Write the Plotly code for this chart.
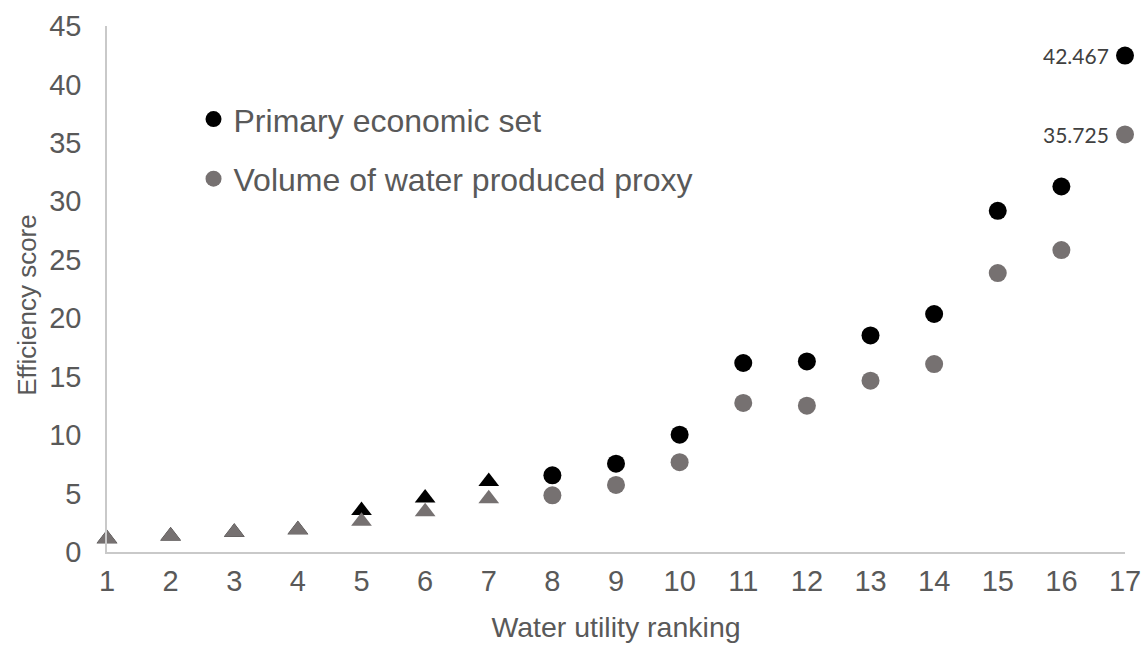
import plotly.graph_objects as go

# Data
ranking = list(range(1, 18))
primary_economic = [1.14, 1.36, 1.68, 1.91, 3.54, 4.62, 6.04, 6.56, 7.56, 10.04,
                    16.17, 16.3, 18.53, 20.36, 29.19, 31.27, 42.467]
volume_proxy = [1.14, 1.36, 1.68, 1.91, 2.64, 3.45, 4.56, 4.85, 5.74, 7.68,
                12.75, 12.52, 14.66, 16.08, 23.86, 25.83, 35.725]
series_names = ["Primary economic set", "Volume of water produced proxy"]
x_ticks = list(range(1, 18))
y_ticks = list(range(0, 46, 5))
x_title = "Water utility ranking"
y_title = "Efficiency score"

BLACK = "#000000"
GRAY = "#767171"
TXT = "#595959"
FONT = "Liberation Sans, Arial, sans-serif"

symbols = ["triangle-up" if r <= 7 else "circle" for r in ranking]

fig = go.Figure()
for name, vals, col in [(series_names[0], primary_economic, BLACK),
                        (series_names[1], volume_proxy, GRAY)]:
    fig.add_trace(go.Scatter(
        x=ranking, y=vals, mode="markers", showlegend=False,
        marker=dict(symbol=symbols, size=18, color=col, opacity=1,
                    line=dict(width=0)),
        cliponaxis=False, name=name))

# legend entries (circles)
for i, (name, col) in enumerate([(series_names[0], BLACK), (series_names[1], GRAY)]):
    fig.add_trace(go.Scatter(
        x=[None], y=[None], mode="markers", name=name, legendgroup=f"g{i}",
        marker=dict(symbol="circle", size=18, color=col, opacity=1)))

# value labels for the last point
for vals in [primary_economic, volume_proxy]:
    fig.add_annotation(x=ranking[-1], y=vals[-1], text=f"{vals[-1]:.3f}",
                       showarrow=False, xanchor="right", yanchor="middle",
                       xshift=-14, font=dict(family="Lato, sans-serif", size=21, color="#404040"))

# y-axis title
fig.add_annotation(xref="paper", yref="paper", x=-0.0785, y=0.47, text=y_title,
                   textangle=-90, showarrow=False, xanchor="center", yanchor="middle",
                   font=dict(size=26, color=TXT, family=FONT))

fig.update_layout(
    width=1147, height=646,
    margin=dict(l=107, r=22, t=26, b=94, autoexpand=False),
    paper_bgcolor="white", plot_bgcolor="white",
    font=dict(family=FONT, color=TXT),
    legend=dict(x=0.085, y=0.875, xanchor="left", yanchor="top",
                font=dict(size=32, color=TXT, family=FONT),
                traceorder="grouped", tracegroupgap=15,
                bgcolor="rgba(0,0,0,0)"),
    xaxis=dict(range=[1, 17], tickvals=x_ticks, showgrid=False, zeroline=False,
               showline=True, linecolor="#C9C9C9", linewidth=1.5,
               ticks="", tickfont=dict(size=29, color=TXT), automargin=False,
               ticklabelstandoff=2,
               title=dict(text=x_title, font=dict(size=28.5, color=TXT), standoff=22)),
    yaxis=dict(range=[0, 45], tickvals=y_ticks, showgrid=False, zeroline=False,
               showline=True, linecolor="#C9C9C9", linewidth=1.5,
               ticks="", tickfont=dict(size=29, color=TXT), automargin=False,
               ticklabelstandoff=18),
)

fig.write_html("out.html", config={"displayModeBar": False},
               post_script="document.body.style.margin='0px';")
